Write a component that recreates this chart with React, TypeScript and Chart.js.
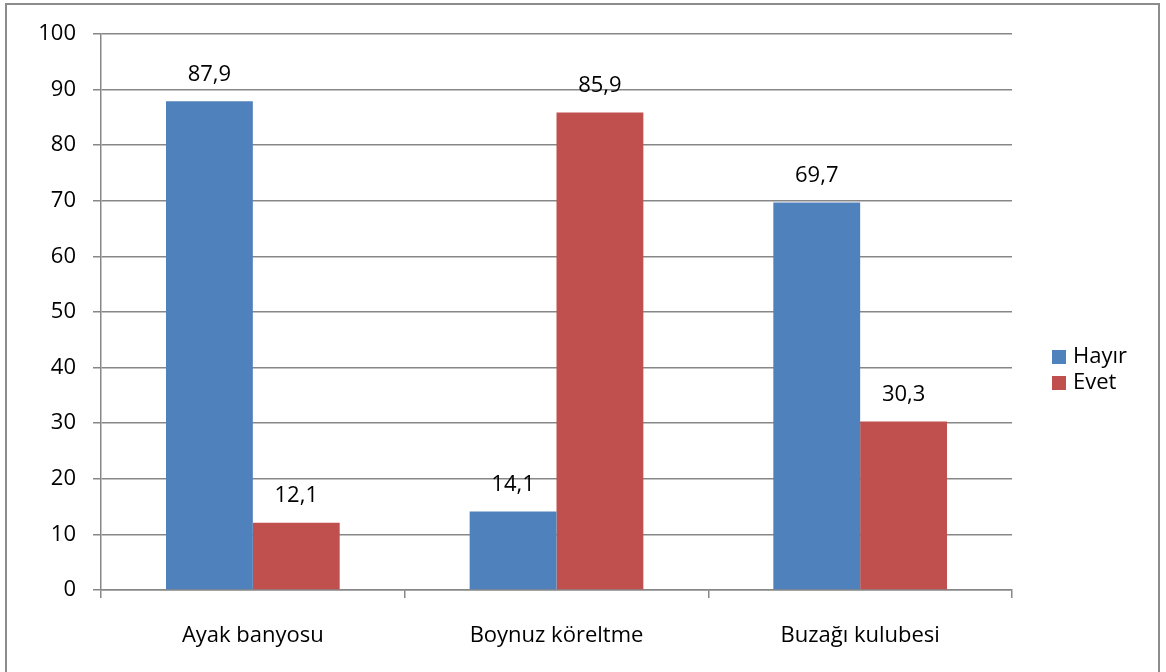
import React, { useEffect, useRef } from "react";
import { Chart, registerables } from "chart.js";

Chart.register(...registerables);

const categories = ["Ayak banyosu", "Boynuz köreltme", "Buzağı kulubesi"];
const hayir = [87.9, 14.1, 69.7];
const evet = [12.1, 85.9, 30.3];
const seriesNames = ["Hayır", "Evet"];
const colors = ["#4F81BD", "#C0504D"];

const FONT = "'Open Sans', 'Noto Sans', sans-serif";
const FS = 22;

const framePlugin = {
  id: "frame",
  beforeDraw(chart: any) {
    const ctx = chart.ctx;
    ctx.save();
    ctx.fillStyle = "#ffffff";
    ctx.fillRect(0, 0, chart.width, chart.height);
    ctx.strokeStyle = "#8c8c8c";
    ctx.lineWidth = 2;
    ctx.beginPath();
    ctx.moveTo(6, chart.height + 5);
    ctx.lineTo(6, 4);
    ctx.lineTo(1159, 4);
    ctx.lineTo(1159, chart.height + 5);
    ctx.stroke();
    ctx.restore();
  },
};

const labelsPlugin = {
  id: "valueLabels",
  afterDatasetsDraw(chart: any) {
    const ctx = chart.ctx;
    ctx.save();
    ctx.font = `${FS}px ${FONT}`;
    ctx.fillStyle = "#000";
    ctx.textAlign = "center";
    ctx.textBaseline = "middle";
    chart.data.datasets.forEach((ds: any, di: number) => {
      const meta = chart.getDatasetMeta(di);
      meta.data.forEach((bar: any, i: number) => {
        const v = ds.data[i] as number;
        ctx.fillText(v.toFixed(1).replace(".", ","), bar.x, bar.y - 27);
      });
    });
    ctx.restore();
  },
};

const legendPlugin = {
  id: "customLegend",
  afterDraw(chart: any) {
    const ctx = chart.ctx;
    ctx.save();
    ctx.font = `${FS}px ${FONT}`;
    ctx.textBaseline = "middle";
    ctx.textAlign = "left";
    chart.data.datasets.forEach((ds: any, i: number) => {
      const cy = 357 + i * 26;
      ctx.fillStyle = ds.backgroundColor;
      ctx.fillRect(1052, cy - 7, 14, 14);
      ctx.fillStyle = "#000";
      ctx.fillText(ds.label, 1073, cy);
    });
    ctx.restore();
  },
};

export default function App() {
  const ref = useRef<HTMLCanvasElement>(null);
  useEffect(() => {
    document.body.style.margin = "0";
    const chart = new Chart(ref.current!, {
      type: "bar",
      data: {
        labels: categories,
        datasets: [
          { label: seriesNames[0], data: hayir, backgroundColor: colors[0] },
          { label: seriesNames[1], data: evet, backgroundColor: colors[1] },
        ],
      },
      options: {
        animation: false,
        responsive: false,
        devicePixelRatio: 1,
        layout: { padding: { left: 0, top: 34, right: 154, bottom: 0 } },
        plugins: { legend: { display: false }, tooltip: { enabled: false } },
        datasets: { bar: { categoryPercentage: 0.572, barPercentage: 1 } },
        scales: {
          x: {
            afterFit: (s: any) => { s.height = 82; },
            grid: {
              offset: true,
              drawOnChartArea: false,
              drawTicks: true,
              tickLength: 8,
              color: "#878787",
              lineWidth: 1.5,
            },
            border: { display: true, color: "#878787", width: 1.5 },
            ticks: { color: "#000", font: { family: FONT, size: FS }, padding: 25, maxRotation: 0 },
          },
          y: {
            min: 0,
            max: 100,
            afterFit: (s: any) => { s.width = 101; },
            ticks: { stepSize: 10, color: "#000", font: { family: FONT, size: FS }, padding: 17 },
            grid: { color: "#878787", lineWidth: 1.5, tickLength: 8, drawTicks: true },
            border: { display: true, color: "#878787", width: 1.5 },
          },
        },
      },
      plugins: [framePlugin, labelsPlugin, legendPlugin],
    });
    return () => chart.destroy();
  }, []);
  return <canvas ref={ref} width={1166} height={672} style={{ display: "block" }} />;
}
